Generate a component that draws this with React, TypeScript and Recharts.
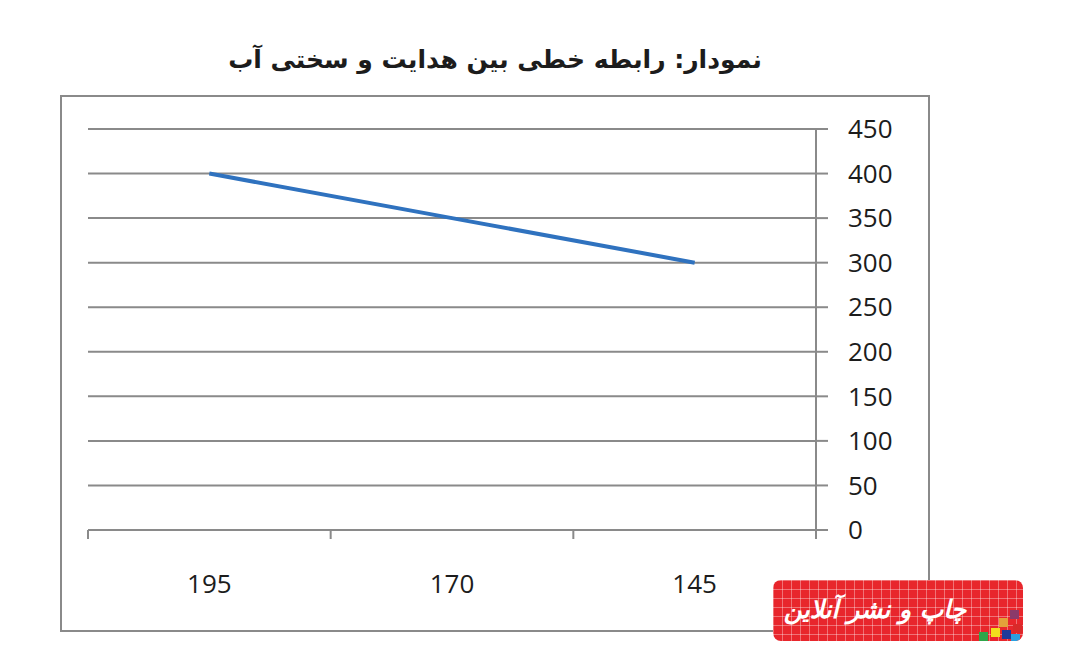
import React from 'react';
import { LineChart, Line, XAxis, YAxis, CartesianGrid } from 'recharts';

const categories = ['195', '170', '145'];
const hardness = [400, 350, 300];
const yTicks = [0, 50, 100, 150, 200, 250, 300, 350, 400, 450];
const title = 'نمودار: رابطه خطی بین هدایت و سختی آب';
const watermark = 'چاپ و نشر آنلاین';

const data = categories.map((c, i) => ({ name: c, value: hardness[i] }));

const GRID = '#8a8a8a';
const TXT = '#1c1c1c';
const FONT = "'Open Sans', 'DejaVu Sans', sans-serif";
const PLOT_W = 728;

const XTick = (props: any) => {
  const { x, y, payload, index, visibleTicksCount } = props;
  const off = payload.offset || PLOT_W / (2 * (visibleTicksCount || 3));
  const isLast = index === visibleTicksCount - 1;
  return (
    <g>
      <line x1={x - off} x2={x - off} y1={y - 8} y2={y + 1} stroke={GRID} strokeWidth={2} />
      {isLast && <line x1={x + off} x2={x + off} y1={y - 8} y2={y + 1} stroke={GRID} strokeWidth={2} />}
      <text x={x} y={y + 45} textAnchor="middle" dominantBaseline="central" fontFamily={FONT} fontSize={26} fill={TXT}>
        {payload.value}
      </text>
    </g>
  );
};

export default function App() {
  return (
    <div style={{ position: 'absolute', left: 0, top: 0, width: 1070, height: 670, background: '#fff', overflow: 'hidden' }}>
      <div
        style={{
          position: 'absolute', left: 0, width: 990, top: 40, textAlign: 'center', direction: 'rtl',
          fontFamily: "'DejaVu Sans', sans-serif", fontWeight: 'bold', fontSize: 25, color: TXT, lineHeight: '40px',
        }}
      >
        {title}
      </div>
      <div style={{ position: 'absolute', left: 60, top: 95, width: 866, height: 533, border: `2px solid ${GRID}` }} />
      <div style={{ position: 'absolute', left: 0, top: 0 }}>
        <LineChart width={1070} height={670} data={data} margin={{ top: 129, right: 154, bottom: 80, left: 88 }}>
          <CartesianGrid vertical={false} stroke={GRID} strokeWidth={2} />
          <XAxis
            dataKey="name"
            type="category"
            scale="band"
            height={60}
            axisLine={{ stroke: GRID, strokeWidth: 2 }}
            tickLine={false}
            tick={<XTick />}
            interval={0}
          />
          <YAxis
            orientation="right"
            domain={[0, 450]}
            ticks={yTicks}
            width={100}
            axisLine={{ stroke: GRID, strokeWidth: 2 }}
            tickLine={{ stroke: GRID, strokeWidth: 2 }}
            tickSize={12}
            tickMargin={20}
            tick={{ fontFamily: FONT, fontSize: 26, fill: TXT }}
            interval={0}
          />
          <Line
            type="linear"
            dataKey="value"
            stroke="#2f72bf"
            strokeWidth={4}
            dot={false}
            isAnimationActive={false}
          />
        </LineChart>
      </div>
      <div
        style={{
          position: 'absolute', left: 773, top: 580, width: 250, height: 61, borderRadius: 8,
          background: '#e8262c',
          backgroundImage:
            'linear-gradient(rgba(255,255,255,0.35) 1px, transparent 1px), linear-gradient(90deg, rgba(255,255,255,0.35) 1px, transparent 1px)',
          backgroundSize: '9px 9px',
          overflow: 'hidden',
        }}
      >
        <div
          style={{
            position: 'absolute', left: 2, top: 6, width: 200, textAlign: 'center', direction: 'rtl', whiteSpace: 'nowrap',
            fontFamily: "'DejaVu Sans', sans-serif", fontWeight: 'bold', fontStyle: 'italic', fontSize: 25,
            color: '#fff', lineHeight: '48px',
          }}
        >
          {watermark}
        </div>
        <div style={{ position: 'absolute', left: 226, top: 38, width: 9, height: 9, background: '#e3a13a' }} />
        <div style={{ position: 'absolute', left: 237, top: 30, width: 9, height: 9, background: '#8a3a6a' }} />
        <div style={{ position: 'absolute', left: 218, top: 48, width: 9, height: 9, background: '#f2e01c' }} />
        <div style={{ position: 'absolute', left: 229, top: 50, width: 9, height: 9, background: '#1f3a9a' }} />
        <div style={{ position: 'absolute', left: 240, top: 44, width: 9, height: 9, background: '#d92a2a' }} />
        <div style={{ position: 'absolute', left: 238, top: 54, width: 9, height: 9, background: '#2aa0e0' }} />
        <div style={{ position: 'absolute', left: 206, top: 52, width: 9, height: 9, background: '#2fa54a' }} />
      </div>
    </div>
  );
}
